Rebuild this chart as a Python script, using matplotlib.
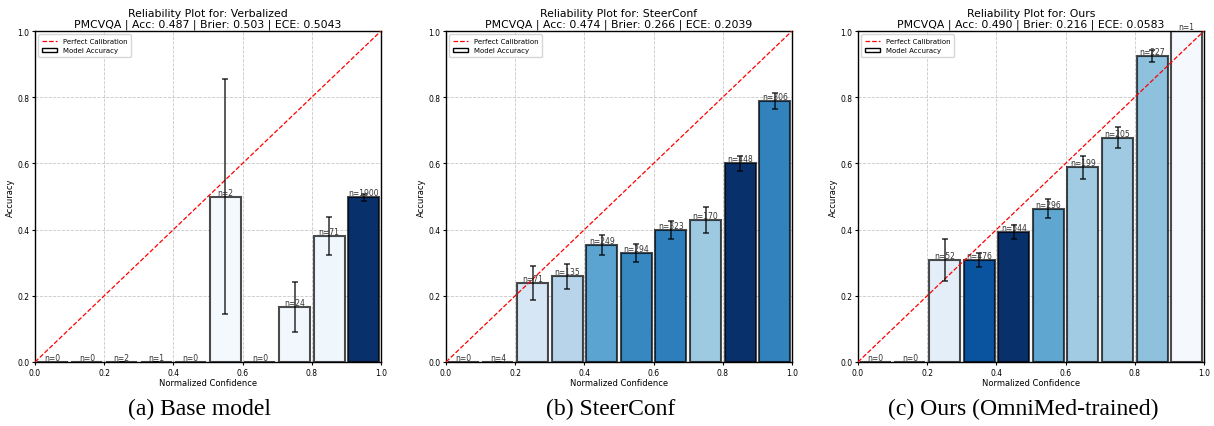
import numpy as np
import matplotlib.pyplot as plt
from matplotlib.patches import Patch
from matplotlib.lines import Line2D

# 10 equal-width confidence bins
bin_centers = np.arange(0.05, 1.0, 0.1)

titles = ['Verbalized', 'SteerConf', 'Ours']
captions = ['(a) Base model', '(b) SteerConf', '(c) Ours (OmniMed-trained)']
dataset = 'PMCVQA'
acc_scores = [0.487, 0.474, 0.490]
brier_scores = [0.503, 0.266, 0.216]
ece_scores = [0.5043, 0.2039, 0.0583]

# samples per bin and accuracy per bin
counts_base = [0, 0, 2, 1, 0, 2, 0, 24, 71, 1900]
acc_base = [0.0, 0.0, 0.0, 0.0, 0.0, 0.5, 0.0, 0.167, 0.380, 0.497]

counts_steer = [0, 4, 71, 135, 249, 294, 323, 170, 448, 306]
acc_steer = [0.0, 0.0, 0.239, 0.259, 0.353, 0.330, 0.399, 0.429, 0.600, 0.788]

counts_ours = [0, 0, 52, 476, 544, 296, 199, 205, 227, 1]
acc_ours = [0.0, 0.0, 0.308, 0.307, 0.394, 0.463, 0.588, 0.678, 0.925, 1.0]

# bar fill colours as seen in the figure
colors_base = ['#f7fbff', '#f7fbff', '#f7fbff', '#f7fbff', '#f7fbff',
               '#f4f9fe', '#f7fbff', '#f2f7fd', '#eff6fc', '#08306b']
colors_steer = ['#f7fbff', '#f7fbff', '#d6e6f4', '#b7d4ea', '#5ba3d0',
                '#3787c0', '#2e7ebc', '#9dc9e1', '#08306b', '#3282be']
colors_ours = ['#f7fbff', '#f7fbff', '#e3eef8', '#0a539e', '#08306b',
               '#5fa6d1', '#a0cbe2', '#9fcae1', '#8dc1dd', '#f5f9fe']

all_counts = [counts_base, counts_steer, counts_ours]
all_acc = [acc_base, acc_steer, acc_ours]
all_colors = [colors_base, colors_steer, colors_ours]

fig = plt.figure(figsize=(12.14, 4.27), dpi=100)
lefts = [35, 446, 858]

for k in range(3):
    ax = fig.add_axes([lefts[k] / 1214, 64 / 427, 346 / 1214, 331 / 427])
    counts = np.array(all_counts[k])
    acc = np.array(all_acc[k])

    ax.plot([0, 1], [0, 1], 'r--', lw=0.9, label='Perfect Calibration', zorder=3)
    ax.bar(bin_centers, acc, width=0.09, color=all_colors[k],
           edgecolor=(0, 0, 0, 0.7), linewidth=1.5, zorder=2)

    # standard error of each bin's accuracy
    has = counts > 0
    err = np.zeros_like(acc)
    err[has] = np.sqrt(acc[has] * (1 - acc[has]) / counts[has])
    ax.errorbar(bin_centers[has], acc[has], yerr=err[has], fmt='none',
                ecolor='black', alpha=0.75, elinewidth=1.2, capsize=2.2,
                capthick=1.2, zorder=4)

    for x, a, n in zip(bin_centers, acc, counts):
        ax.text(x, a, 'n=%d' % n, ha='center', va='bottom', fontsize=5.5,
                color='#333333', clip_on=False, zorder=5)

    ax.set_xlim(0, 1)
    ax.set_ylim(0, 1)
    ax.set_xticks(np.arange(0, 1.01, 0.2))
    ax.set_yticks(np.arange(0, 1.01, 0.2))
    ax.tick_params(labelsize=5.5, length=2.5, width=0.8, pad=1.5)
    ax.grid(True, linestyle='--', color='#b0b0b0', alpha=0.7, linewidth=0.6)
    ax.set_axisbelow(True)
    for s in ax.spines.values():
        s.set_linewidth(1.0)

    ax.set_xlabel('Normalized Confidence', fontsize=6, labelpad=1)
    ax.set_ylabel('Accuracy', fontsize=6, labelpad=2)
    ax.set_title('Reliability Plot for: %s\n%s | Acc: %.3f | Brier: %.3f | ECE: %.4f'
                 % (titles[k], dataset, acc_scores[k], brier_scores[k], ece_scores[k]),
                 fontsize=7.8, pad=3, linespacing=1.1)

    handles = [Line2D([0], [0], color='red', ls='--', lw=0.9),
               Patch(facecolor='white', edgecolor='black', linewidth=1.0)]
    ax.legend(handles, ['Perfect Calibration', 'Model Accuracy'], loc='upper left',
              fontsize=5, handlelength=2.2, borderpad=0.5, labelspacing=0.5,
              framealpha=0.8)

    fig.text((lefts[k] + 165) / 1214, 1 - 409 / 427, captions[k], ha='center',
             va='center', fontsize=17, family='Liberation Serif')

fig.savefig('out.png', dpi=100)
